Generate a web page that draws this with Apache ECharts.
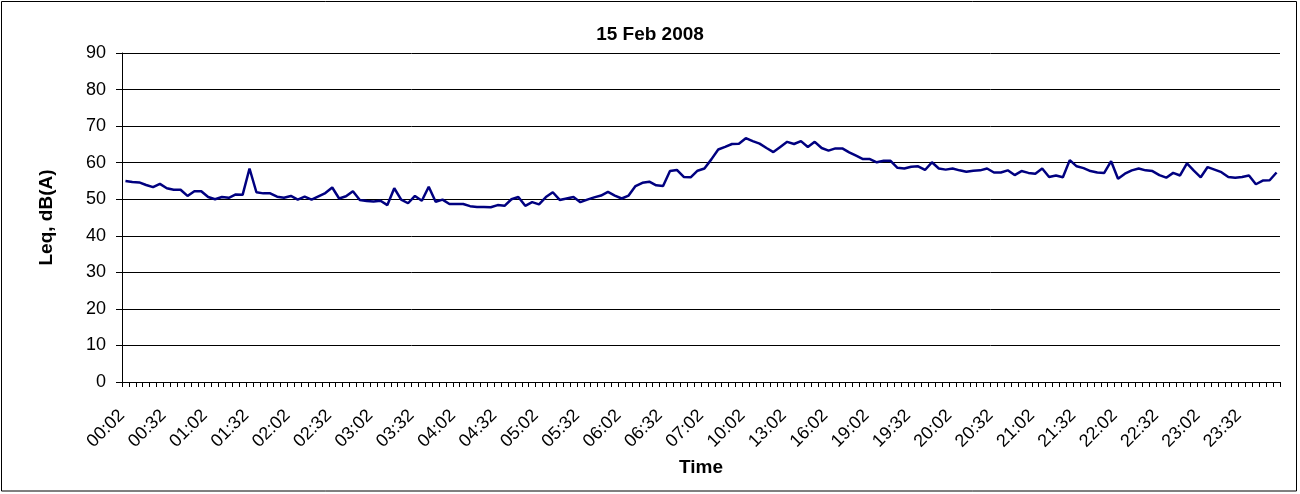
<!DOCTYPE html>
<html><head><meta charset="utf-8">
<script src="https://cdn.jsdelivr.net/npm/echarts@6/dist/echarts.min.js"></script>
<style>html,body{margin:0;padding:0;background:#fff}#c{width:1300px;height:494px}</style>
</head><body><div id="c"></div>
<script>
const categories = [
'00:02','00:07','00:12','00:17','00:22','00:27','00:32','00:37','00:42','00:47','00:52','00:57',
'01:02','01:07','01:12','01:17','01:22','01:27','01:32','01:37','01:42','01:47','01:52','01:57',
'02:02','02:07','02:12','02:17','02:22','02:27','02:32','02:37','02:42','02:47','02:52','02:57',
'03:02','03:07','03:12','03:17','03:22','03:27','03:32','03:37','03:42','03:47','03:52','03:57',
'04:02','04:07','04:12','04:17','04:22','04:27','04:32','04:37','04:42','04:47','04:52','04:57',
'05:02','05:07','05:12','05:17','05:22','05:27','05:32','05:37','05:42','05:47','05:52','05:57',
'06:02','06:07','06:12','06:17','06:22','06:27','06:32','06:37','06:42','06:47','06:52','06:57',
'07:02','07:32','08:02','08:32','09:02','09:32','10:02','10:32','11:02','11:32','12:02','12:32',
'13:02','13:32','14:02','14:32','15:02','15:32','16:02','16:32','17:02','17:32','18:02','18:32',
'19:02','19:07','19:12','19:17','19:22','19:27','19:32','19:37','19:42','19:47','19:52','19:57',
'20:02','20:07','20:12','20:17','20:22','20:27','20:32','20:37','20:42','20:47','20:52','20:57',
'21:02','21:07','21:12','21:17','21:22','21:27','21:32','21:37','21:42','21:47','21:52','21:57',
'22:02','22:07','22:12','22:17','22:22','22:27','22:32','22:37','22:42','22:47','22:52','22:57',
'23:02','23:07','23:12','23:17','23:22','23:27','23:32','23:37','23:42','23:47','23:52','23:57'
];
const leq = [
55.0,54.7,54.6,53.9,53.3,54.2,53.0,52.6,52.6,50.9,
52.2,52.2,50.6,50.0,50.6,50.4,51.3,51.2,58.4,51.9,
51.6,51.6,50.7,50.4,50.9,49.9,50.7,49.9,50.8,51.7,
53.2,50.2,50.8,52.2,49.8,49.5,49.4,49.6,48.4,53.0,
49.9,48.9,50.9,49.6,53.4,49.3,49.9,48.7,48.7,48.7,
48.1,47.9,47.9,47.8,48.4,48.2,50.0,50.6,48.2,49.2,
48.6,50.6,51.9,49.8,50.2,50.6,49.2,49.9,50.5,51.0,
52.0,51.0,50.2,51.0,53.6,54.5,54.8,53.8,53.6,57.7,
58.0,56.1,56.0,57.8,58.4,60.9,63.6,64.3,65.1,65.2,
66.7,65.9,65.2,64.0,62.9,64.3,65.7,65.1,65.9,64.3,
65.7,64.0,63.3,63.9,63.9,62.8,61.9,61.0,61.0,60.1,
60.5,60.5,58.6,58.4,58.9,59.0,58.0,60.1,58.4,58.1,
58.4,57.9,57.5,57.8,57.9,58.4,57.3,57.3,57.9,56.6,
57.7,57.2,57.0,58.4,56.1,56.5,56.0,60.7,59.0,58.5,
57.7,57.3,57.2,60.4,55.6,57.0,57.9,58.4,57.9,57.7,
56.6,55.9,57.2,56.5,59.8,57.8,56.0,58.8,58.1,57.4,
56.1,55.9,56.1,56.5,54.1,55.1,55.2,57.3
];
const titleText = '15 Feb 2008';
const yName = 'Leq, dB(A)';
const xName = 'Time';
const yMin = 0, yMax = 90, yStep = 10;

const FONT = 'Liberation Sans, Arial, sans-serif';
const chart = echarts.init(document.getElementById('c'), null, {renderer: 'canvas'});
chart.setOption({
  animation: false,
  backgroundColor: '#fff',
  textStyle: {fontFamily: FONT, color: '#000'},
  title: {
    text: titleText, left: 'center', top: 25, padding: 0,
    textStyle: {fontFamily: FONT, fontSize: 19, fontWeight: 'bold', color: '#000'}
  },
  graphic: [{
    type: 'rect', silent: true, z: -1,
    shape: {x: 1.5, y: 1.5, width: 1295, height: 489.5},
    style: {fill: 'none', stroke: '#000', lineWidth: 1}
  }],
  grid: {left: 122, right: 20, top: 53, bottom: 112, containLabel: false},
  xAxis: {
    type: 'category', data: categories, boundaryGap: true,
    name: xName, nameLocation: 'middle', nameGap: 73,
    nameTextStyle: {fontFamily: FONT, fontSize: 19, fontWeight: 'bold', color: '#000'},
    axisLine: {show: true, lineStyle: {color: '#000', width: 1}},
    axisTick: {show: true, interval: 0, length: 5, alignWithLabel: false, lineStyle: {color: '#000', width: 1}},
    axisLabel: {interval: 5, rotate: 45, margin: 27, fontSize: 18, fontFamily: FONT, color: '#000', padding: [0, 5, 0, 0]},
    splitLine: {show: false}
  },
  yAxis: {
    type: 'value', min: yMin, max: yMax, interval: yStep,
    name: yName, nameLocation: 'middle', nameGap: 66, nameRotate: 90,
    nameTextStyle: {fontFamily: FONT, fontSize: 19, fontWeight: 'bold', color: '#000'},
    axisLine: {show: true, lineStyle: {color: '#000', width: 1}},
    axisTick: {show: true, length: 6, lineStyle: {color: '#000', width: 1}},
    axisLabel: {margin: 16, fontSize: 18, fontFamily: FONT, color: '#000'},
    splitLine: {show: true, lineStyle: {color: '#000', width: 1}}
  },
  series: [{
    type: 'line', data: leq, symbol: 'none', smooth: false,
    lineStyle: {color: '#000080', width: 2.5},
    itemStyle: {color: '#000080'}
  }]
});
</script>
</body></html>
